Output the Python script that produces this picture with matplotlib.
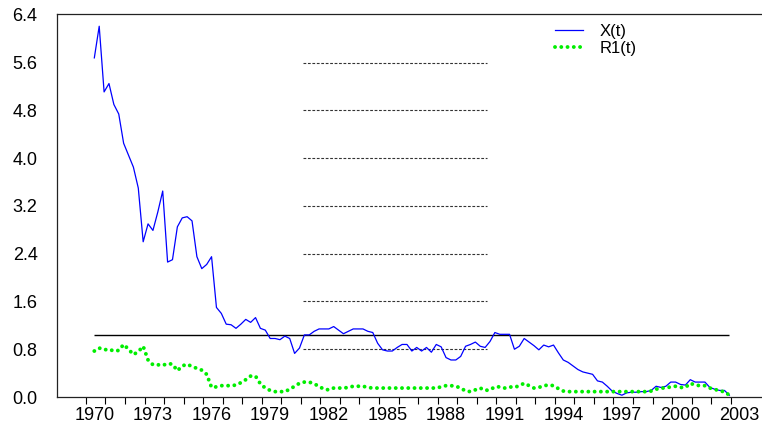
import matplotlib
matplotlib.use("Agg")
import matplotlib.pyplot as plt
import numpy as np

# Quarterly observations from 1970Q1
start_year = 1970
x_values = [5.68, 6.21, 5.11, 5.25, 4.90, 4.74, 4.25, 4.05, 3.85, 3.50,
            2.60, 2.90, 2.79, 3.10, 3.45, 2.26, 2.30, 2.85, 3.00, 3.02,
            2.95, 2.35, 2.15, 2.22, 2.35, 1.50, 1.40, 1.22, 1.21, 1.15,
            1.22, 1.30, 1.25, 1.33, 1.15, 1.12, 0.98, 0.98, 0.96, 1.02,
            0.98, 0.73, 0.82, 1.04, 1.04, 1.10, 1.14, 1.14, 1.14, 1.18,
            1.12, 1.06, 1.10, 1.14, 1.14, 1.14, 1.10, 1.08, 0.90, 0.79,
            0.77, 0.77, 0.83, 0.88, 0.88, 0.77, 0.83, 0.77, 0.83, 0.75,
            0.88, 0.84, 0.66, 0.62, 0.62, 0.68, 0.85, 0.88, 0.92, 0.85,
            0.83, 0.93, 1.08, 1.05, 1.05, 1.05, 0.80, 0.85, 0.98, 0.92,
            0.86, 0.79, 0.87, 0.84, 0.87, 0.74, 0.62, 0.58, 0.52, 0.46,
            0.42, 0.40, 0.38, 0.27, 0.25, 0.18, 0.10, 0.06, 0.03, 0.07,
            0.08, 0.08, 0.09, 0.09, 0.11, 0.18, 0.16, 0.18, 0.25, 0.25,
            0.21, 0.20, 0.29, 0.25, 0.25, 0.25, 0.16, 0.13, 0.11, 0.11,
            0.03]
r1_values = [0.77, 0.82, 0.79, 0.80, 0.77, 0.78, 0.88, 0.80, 0.71, 0.76,
             0.85, 0.62, 0.54, 0.54, 0.53, 0.56, 0.55, 0.44, 0.52, 0.55,
             0.51, 0.48, 0.45, 0.38, 0.16, 0.17, 0.19, 0.19, 0.19, 0.20,
             0.24, 0.29, 0.35, 0.35, 0.22, 0.15, 0.11, 0.09, 0.09, 0.09,
             0.13, 0.18, 0.23, 0.25, 0.25, 0.22, 0.18, 0.13, 0.12, 0.15,
             0.15, 0.15, 0.16, 0.18, 0.18, 0.18, 0.16, 0.15, 0.15, 0.15,
             0.15, 0.15, 0.15, 0.15, 0.15, 0.15, 0.15, 0.15, 0.15, 0.15,
             0.15, 0.17, 0.19, 0.19, 0.18, 0.15, 0.10, 0.09, 0.12, 0.15,
             0.11, 0.12, 0.17, 0.17, 0.15, 0.17, 0.16, 0.19, 0.23, 0.19,
             0.15, 0.16, 0.19, 0.20, 0.19, 0.14, 0.10, 0.09, 0.09, 0.09,
             0.09, 0.09, 0.09, 0.09, 0.09, 0.09, 0.09, 0.09, 0.09, 0.09,
             0.09, 0.09, 0.09, 0.09, 0.10, 0.13, 0.15, 0.15, 0.17, 0.18,
             0.16, 0.16, 0.23, 0.20, 0.19, 0.19, 0.15, 0.13, 0.10, 0.09,
             0.03]
ref_level = 1.04
dashed_levels = [5.6, 4.8, 4.0, 3.2, 2.4, 1.6, 0.8]
dashed_span = (1980.67, 1990.1)
year_labels = list(range(1970, 2004, 3))
y_ticks = [0.0, 0.8, 1.6, 2.4, 3.2, 4.0, 4.8, 5.6, 6.4]

t = start_year + np.arange(len(x_values)) / 4.0

plt.rcParams['font.family'] = ['Liberation Sans', 'DejaVu Sans']
fig = plt.figure(figsize=(7.62, 4.29), dpi=100)
ax = fig.add_axes([57/762, 1 - 397/429, 1 - 57/762, (397 - 14)/429])

ax.plot(t, x_values, color='#0000ff', lw=0.9, label='X(t)', zorder=3)
ax.plot(t, r1_values, color='#00ee00', lw=2.8, linestyle=(0, (0.01, 1.6)),
        dash_capstyle='round', solid_capstyle='round', label='R1(t)', zorder=4)
ax.hlines(ref_level, t[0], t[-1], color='black', lw=1.0, zorder=2)
for lv in dashed_levels:
    ax.hlines(lv, dashed_span[0], dashed_span[1], color='#333333', lw=0.8,
              linestyles=(0, (2.5, 1.5)), zorder=2)

ax.set_xlim(1968.09, 2004.17)
ax.set_ylim(0, 6.415)
ax.set_yticks(y_ticks)
ax.set_yticklabels([f"{v:.1f}" for v in y_ticks], fontsize=13)
ax.tick_params(axis='y', length=0, pad=14)

ax.set_xticks(year_labels)
ax.set_xticklabels([str(y) for y in year_labels], fontsize=13)
ax.tick_params(axis='x', which='major', length=0, pad=7)
ax.set_xticks([y + 0.57 for y in range(1969, 2003)], minor=True)
ax.tick_params(axis='x', which='minor', length=5, width=0.8, color='black')

ax.spines['right'].set_visible(False)
for s in ['left', 'top', 'bottom']:
    ax.spines[s].set_linewidth(0.9)
    ax.spines[s].set_color('#222222')

leg = ax.legend(loc='upper left', bbox_to_anchor=(0.6915, 1.0), frameon=False,
                fontsize=12, handlelength=1.7, handletextpad=1.0,
                labelspacing=0.1, borderaxespad=0.2)
fig.savefig('out.png', dpi=100)
